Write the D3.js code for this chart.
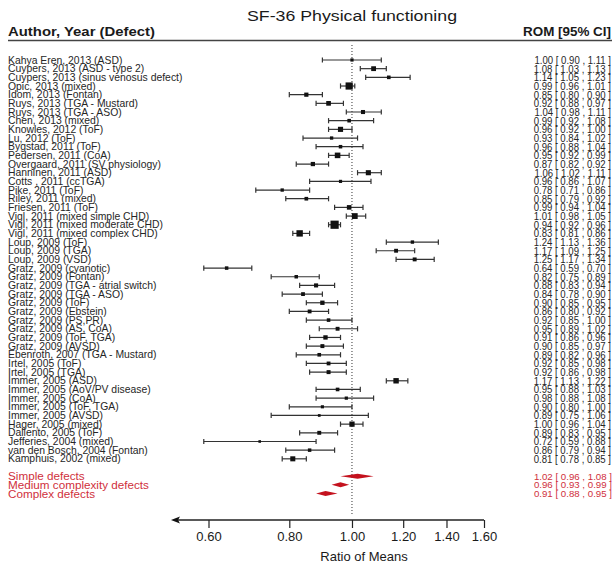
<!DOCTYPE html>
<html>
<head>
<meta charset="utf-8">
<script src="https://cdn.jsdelivr.net/npm/d3@7"></script>
<style>
  html, body { margin: 0; padding: 0; background: #fff; }
  svg { display: block; font-family: "Liberation Sans", Arial, Helvetica, sans-serif; }
</style>
</head>
<body>
<svg id="chart" width="616" height="568"></svg>
<script>
// Individual studies: label, ratio of means and 95% CI bounds
const studies = [
  "Kahya Eren, 2013 (ASD)",
  "Cuypers, 2013 (ASD - type 2)",
  "Cuypers, 2013 (sinus venosus defect)",
  "Opic, 2013 (mixed)",
  "Idom, 2013 (Fontan)",
  "Ruys, 2013 (TGA - Mustard)",
  "Ruys, 2013 (TGA - ASO)",
  "Chen, 2013 (mixed)",
  "Knowles, 2012 (ToF)",
  "Lu, 2012 (ToF)",
  "Bygstad, 2011 (ToF)",
  "Pedersen, 2011 (CoA)",
  "Overgaard, 2011 (SV physiology)",
  "Hanninen, 2011 (ASD)",
  "Cotts , 2011 (ccTGA)",
  "Pike, 2011 (ToF)",
  "Riley, 2011 (mixed)",
  "Friesen, 2011 (ToF)",
  "Vigl, 2011 (mixed simple CHD)",
  "Vigl, 2011 (mixed moderate CHD)",
  "Vigl, 2011 (mixed complex CHD)",
  "Loup, 2009 (ToF)",
  "Loup, 2009 (TGA)",
  "Loup, 2009 (VSD)",
  "Gratz, 2009 (cyanotic)",
  "Gratz, 2009 (Fontan)",
  "Gratz, 2009 (TGA - atrial switch)",
  "Gratz, 2009 (TGA - ASO)",
  "Gratz, 2009 (ToF)",
  "Gratz, 2009 (Ebstein)",
  "Gratz, 2009 (PS,PR)",
  "Gratz, 2009 (AS, CoA)",
  "Gratz, 2009 (ToF, TGA)",
  "Gratz, 2009 (AVSD)",
  "Ebenroth, 2007 (TGA - Mustard)",
  "Irtel, 2005 (ToF)",
  "Irtel, 2005 (TGA)",
  "Immer, 2005 (ASD)",
  "Immer, 2005 (AoV/PV disease)",
  "Immer, 2005 (CoA)",
  "Immer, 2005 (ToF, TGA)",
  "Immer, 2005 (AVSD)",
  "Hager, 2005 (mixed)",
  "Dallento, 2005 (ToF)",
  "Jefferies, 2004 (mixed)",
  "van den Bosch, 2004 (Fontan)",
  "Kamphuis, 2002 (mixed)"
];
const rom = [
  1.00, 1.08, 1.14, 0.99, 0.85, 0.92, 1.04, 0.99, 0.96, 0.93,
  0.96, 0.95, 0.87, 1.06, 0.96, 0.78, 0.85, 0.99, 1.01, 0.94,
  0.83, 1.24, 1.17, 1.25, 0.64, 0.82, 0.88, 0.84, 0.90, 0.86,
  0.92, 0.95, 0.91, 0.90, 0.89, 0.92, 0.92, 1.17, 0.95, 0.98,
  0.90, 0.89, 1.00, 0.89, 0.72, 0.86, 0.81
];
const lower = [
  0.90, 1.03, 1.05, 0.96, 0.80, 0.88, 0.98, 0.92, 0.92, 0.84,
  0.88, 0.92, 0.82, 1.02, 0.86, 0.71, 0.79, 0.94, 0.98, 0.92,
  0.81, 1.13, 1.09, 1.17, 0.59, 0.75, 0.83, 0.78, 0.85, 0.80,
  0.85, 0.89, 0.86, 0.85, 0.82, 0.85, 0.86, 1.13, 0.88, 0.88,
  0.80, 0.75, 0.96, 0.83, 0.59, 0.79, 0.78
];
const upper = [
  1.11, 1.13, 1.23, 1.01, 0.90, 0.97, 1.11, 1.08, 1.00, 1.02,
  1.04, 0.99, 0.92, 1.11, 1.07, 0.86, 0.92, 1.04, 1.05, 0.96,
  0.86, 1.36, 1.25, 1.34, 0.70, 0.89, 0.94, 0.90, 0.95, 0.92,
  1.00, 1.02, 0.96, 0.97, 0.96, 0.98, 0.98, 1.22, 1.03, 1.08,
  1.00, 1.06, 1.04, 0.95, 0.88, 0.94, 0.85
];

// Pooled estimates by defect complexity
const groups = ["Simple defects", "Medium complexity defects", "Complex defects"];
const groupRom = [1.02, 0.96, 0.91];
const groupLower = [0.96, 0.93, 0.88];
const groupUpper = [1.08, 0.99, 0.95];

// Axis
const axisTicks = [0.6, 0.8, 1.0, 1.2, 1.4, 1.6];
const axisArrowEnd = 0.525;

const svg = d3.select("#chart");
const ink = "#262626";
const lineInk = "#333";
const red = "#d0303c";
const redFill = "#c4121e";

const x = d3.scaleLog().domain([0.6, 1.6]).range([208.5, 484]);
const y = d3.scaleLinear().domain([0, 50]).range([60, 493.5]);
const fmt = d3.format(".2f");
const ciText = (m, l, u) => `${fmt(m)} [ ${fmt(l)} , ${fmt(u)} ]`;

// Title and column headers
svg.append("text")
  .attr("x", 352).attr("y", 21)
  .attr("text-anchor", "middle")
  .attr("font-size", 15.5).attr("fill", "#1a1a1a")
  .attr("textLength", 210).attr("lengthAdjust", "spacingAndGlyphs")
  .text("SF-36 Physical functioning");

svg.append("text")
  .attr("x", 8).attr("y", 36)
  .attr("font-size", 12.8).attr("font-weight", "bold").attr("fill", "#1a1a1a")
  .attr("textLength", 147).attr("lengthAdjust", "spacingAndGlyphs")
  .text("Author, Year (Defect)");

svg.append("text")
  .attr("x", 611).attr("y", 36)
  .attr("text-anchor", "end")
  .attr("font-size", 12.8).attr("font-weight", "bold").attr("fill", "#1a1a1a")
  .attr("textLength", 88).attr("lengthAdjust", "spacingAndGlyphs")
  .text("ROM [95% CI]");

svg.append("line")
  .attr("x1", 8).attr("x2", 612)
  .attr("y1", 40.5).attr("y2", 40.5)
  .attr("stroke", "#444").attr("stroke-width", 1.3);

// Reference line at ratio 1
svg.append("line")
  .attr("x1", x(1)).attr("x2", x(1))
  .attr("y1", 45).attr("y2", 516)
  .attr("stroke", "#333").attr("stroke-width", 1)
  .attr("stroke-dasharray", "1,2");

// Square size follows study precision (inverse CI width on the log scale)
const precision = studies.map((_, i) => 1 / (Math.log(upper[i]) - Math.log(lower[i])));
const boxSize = d3.scaleLinear().domain(d3.extent(precision)).range([2.6, 8.2]);

const rows = svg.append("g").selectAll("g.study")
  .data(studies.map((name, i) => ({ name, i, m: rom[i], l: lower[i], u: upper[i], p: precision[i] })))
  .join("g").attr("class", "study");

rows.append("text")
  .attr("x", 8).attr("y", d => y(d.i) + 3.6)
  .attr("font-size", 10.4).attr("fill", ink)
  .text(d => d.name);

rows.append("line")
  .attr("x1", d => x(d.l)).attr("x2", d => x(d.u))
  .attr("y1", d => y(d.i)).attr("y2", d => y(d.i))
  .attr("stroke", lineInk).attr("stroke-width", 1.2);

rows.selectAll("line.cap")
  .data(d => [d.l, d.u].map(v => ({ v, i: d.i })))
  .join("line").attr("class", "cap")
  .attr("x1", c => x(c.v)).attr("x2", c => x(c.v))
  .attr("y1", c => y(c.i) - 2.6).attr("y2", c => y(c.i) + 2.6)
  .attr("stroke", lineInk).attr("stroke-width", 1.2);

rows.append("rect")
  .attr("x", d => x(d.m) - boxSize(d.p) / 2)
  .attr("y", d => y(d.i) - boxSize(d.p) / 2)
  .attr("width", d => boxSize(d.p))
  .attr("height", d => boxSize(d.p))
  .attr("fill", "#111");

rows.append("text")
  .attr("transform", d => `translate(611,${y(d.i) + 4.0}) scale(1,1.15)`)
  .attr("text-anchor", "end")
  .attr("font-size", 9.6).attr("fill", ink)
  .text(d => ciText(d.m, d.l, d.u));

// Pooled subgroup diamonds
const pooled = svg.append("g").selectAll("g.pooled")
  .data(groups.map((name, k) => ({ name, i: 48 + k, m: groupRom[k], l: groupLower[k], u: groupUpper[k] })))
  .join("g").attr("class", "pooled");

pooled.append("text")
  .attr("x", 8).attr("y", d => y(d.i) + 4.1)
  .attr("font-size", 11.7).attr("fill", red)
  .text(d => d.name);

pooled.append("polygon")
  .attr("points", d => {
    const yc = y(d.i), h = 2.5;
    return [[x(d.l), yc], [x(d.m), yc - h], [x(d.u), yc], [x(d.m), yc + h]].join(" ");
  })
  .attr("fill", redFill);

pooled.append("text")
  .attr("x", 612).attr("y", d => y(d.i) + 3.6)
  .attr("text-anchor", "end")
  .attr("font-size", 9.7).attr("fill", red)
  .text(d => ciText(d.m, d.l, d.u));

// Bottom axis with a leftward arrow
const axisY = 520;
const axisG = svg.append("g")
  .attr("transform", `translate(0,${axisY})`)
  .call(d3.axisBottom(x).tickValues(axisTicks).tickFormat(fmt).tickSize(8).tickPadding(4));
axisG.select(".domain").remove();
axisG.selectAll(".tick line").attr("stroke", "#222").attr("stroke-width", 1.2);
axisG.selectAll(".tick text")
  .attr("font-size", 13).attr("fill", "#1a1a1a")
  .attr("font-family", "\"Liberation Sans\", Arial, sans-serif");

svg.append("line")
  .attr("x1", x(axisArrowEnd) + 6).attr("x2", x(1.6))
  .attr("y1", axisY).attr("y2", axisY)
  .attr("stroke", "#222").attr("stroke-width", 1.3);

const tip = x(axisArrowEnd);
svg.append("path")
  .attr("d", `M${tip},${axisY} L${tip + 9},${axisY - 3.5} L${tip + 7},${axisY} L${tip + 9},${axisY + 3.5} Z`)
  .attr("fill", "#111");

svg.append("text")
  .attr("x", 364).attr("y", 561)
  .attr("text-anchor", "middle")
  .attr("font-size", 13).attr("fill", "#1a1a1a")
  .text("Ratio of Means");
</script>
</body>
</html>
